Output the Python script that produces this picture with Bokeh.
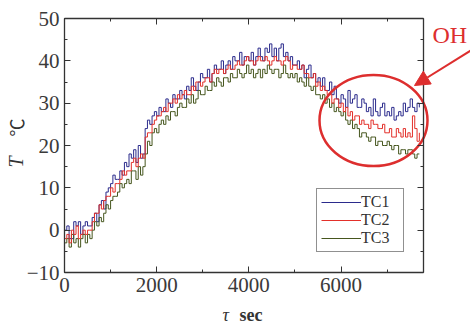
import numpy as np
from bokeh.plotting import figure
from bokeh.models import (LinearAxis, SingleIntervalTicker, Range1d, Legend, LegendItem,
                          Label, Arrow, NormalHead, ColumnDataSource)
from bokeh.embed import file_html
from bokeh.resources import INLINE

# ---------------- data ----------------
time_step = 50  # seconds between samples
tc1 = [
    0, 1, -2, -2, 2, 1, 2, -1, 1, 2,
    1, 1, 3, 4, 2, 6, 7, 5, 9, 10,
    11, 13, 12, 12, 14, 13, 16, 15, 18, 17,
    19, 16, 20, 17, 18, 24, 26, 25, 27, 28,
    27, 29, 28, 28, 31, 30, 29, 32, 31, 31,
    33, 32, 31, 34, 33, 36, 34, 33, 35, 37,
    36, 36, 38, 35, 37, 39, 38, 38, 40, 37,
    39, 40, 38, 41, 40, 40, 42, 39, 41, 41,
    40, 42, 39, 41, 43, 41, 40, 43, 42, 44,
    41, 43, 40, 43, 44, 41, 42, 40, 41, 39,
    39, 40, 38, 39, 36, 38, 39, 36, 37, 35,
    36, 34, 36, 33, 33, 35, 32, 34, 31, 30,
    32, 31, 29, 33, 30, 31, 32, 29, 29, 31,
    30, 28, 29, 27, 31, 28, 27, 29, 30, 27,
    28, 27, 29, 26, 27, 28, 27, 30, 28, 29,
    31, 29, 28, 30, 29,
]
tc2 = [
    -2, -1, -3, 0, -1, 1, -2, -1, 0, -1,
    0, 0, 2, 4, 4, 6, 5, 7, 8, 8,
    10, 9, 11, 11, 12, 14, 13, 14, 14, 16,
    17, 15, 17, 18, 17, 22, 23, 23, 25, 26,
    27, 27, 28, 29, 28, 30, 30, 31, 30, 32,
    31, 32, 33, 32, 32, 34, 33, 35, 35, 34,
    35, 36, 36, 35, 37, 38, 37, 38, 38, 37,
    38, 39, 38, 38, 39, 40, 39, 39, 40, 41,
    40, 40, 39, 40, 41, 40, 40, 41, 40, 39,
    40, 41, 40, 40, 39, 40, 41, 40, 38, 39,
    39, 38, 38, 39, 37, 37, 36, 36, 37, 34,
    35, 33, 34, 33, 32, 32, 30, 31, 31, 29,
    30, 28, 29, 27, 28, 26, 27, 27, 25, 26,
    25, 25, 24, 26, 25, 25, 24, 24, 25, 23,
    23, 24, 22, 22, 24, 23, 22, 24, 22, 23,
    22, 27, 24, 21, 23,
]
tc3 = [
    -3, -2, -4, -1, -3, -2, -4, -2, -1, -3,
    -1, -2, 0, 2, 1, 3, 2, 4, 6, 5,
    7, 8, 8, 9, 11, 10, 11, 12, 11, 14,
    14, 12, 15, 13, 15, 18, 21, 20, 23, 24,
    23, 25, 26, 25, 27, 26, 28, 28, 27, 29,
    30, 29, 29, 31, 30, 32, 30, 31, 33, 32,
    32, 34, 33, 33, 35, 34, 36, 35, 34, 36,
    36, 35, 37, 36, 36, 38, 37, 36, 37, 39,
    37, 38, 36, 37, 38, 36, 38, 37, 39, 38,
    37, 38, 38, 36, 37, 39, 37, 36, 37, 36,
    37, 35, 36, 35, 34, 36, 34, 33, 34, 32,
    32, 31, 32, 30, 31, 29, 30, 28, 29, 28,
    27, 28, 26, 25, 26, 24, 25, 24, 22, 23,
    23, 22, 21, 22, 22, 20, 21, 21, 20, 20,
    21, 20, 19, 20, 20, 18, 19, 19, 18, 19,
    19, 18, 17, 18, 18,
]
series_names = ["TC1", "TC2", "TC3"]
series_colors = ["#2b2b8c", "#e3302a", "#46561e"]
x_min, x_max = 0, 7790
y_min, y_max = -10, 50
x_tick_interval = 2000
y_tick_interval = 10

t = [i * time_step for i in range(len(tc2))]

# ---------------- layout (pixels) ----------------
W, H = 470, 330
frame_left, frame_right = 64, 423      # where the axes box sits on the canvas
frame_top, frame_bottom = 18, 272
sx = (frame_right - frame_left) / (x_max - x_min)   # px per data unit
sy = (frame_bottom - frame_top) / (y_max - y_min)

def dx(px):   # canvas x pixel -> data x
    return x_min + (px - frame_left) / sx

def dy(py):   # canvas y pixel -> data y
    return y_min + (frame_bottom - py) / sy

SERIF = "Liberation Serif"
DARK = "#333333"
RED = "#dd2e2e"
BASE_SHIFT = 0.37  # label baseline correction, in em

p = figure(width=W, height=H, output_backend="svg", toolbar_location=None,
           x_range=Range1d(dx(0), dx(W)), y_range=Range1d(dy(H), dy(0)),
           min_border=0, min_border_left=0, min_border_right=0,
           min_border_top=0, min_border_bottom=0)
p.background_fill_color = "white"
p.border_fill_color = "white"
p.outline_line_color = None
p.grid.visible = False

xt = SingleIntervalTicker(interval=x_tick_interval, num_minor_ticks=2)
yt = SingleIntervalTicker(interval=y_tick_interval, num_minor_ticks=2)

def style_axis(ax, labels=True):
    ax.axis_line_color = DARK
    ax.axis_line_width = 1.3
    ax.major_tick_in = 6
    ax.major_tick_out = 0
    ax.minor_tick_in = 3
    ax.minor_tick_out = 0
    ax.major_tick_line_color = DARK
    ax.minor_tick_line_color = DARK
    ax.major_label_text_font = SERIF
    ax.major_label_text_font_size = "21px"
    ax.major_label_text_color = "#3a3a3a" if labels else None
    ax.major_label_standoff = 5

bottom = p.xaxis[0]
left = p.yaxis[0]
bottom.ticker = xt
left.ticker = yt
bottom.fixed_location = y_min
left.fixed_location = x_min
bottom.bounds = (x_min, x_max)
left.bounds = (y_min, y_max)
style_axis(bottom)
style_axis(left)

top = LinearAxis(ticker=xt, fixed_location=y_max, bounds=(x_min, x_max))
right = LinearAxis(ticker=yt, fixed_location=x_max, bounds=(y_min, y_max))
style_axis(top, labels=False)
style_axis(right, labels=False)
p.add_layout(top, "above")
p.add_layout(right, "right")

src = ColumnDataSource(dict(t=t, tc1=tc1, tc2=tc2, tc3=tc3))
r1 = p.step("t", "tc1", source=src, mode="after", line_color=series_colors[0], line_width=1)
r3 = p.step("t", "tc3", source=src, mode="after", line_color=series_colors[2], line_width=1)
r2 = p.step("t", "tc2", source=src, mode="after", line_color=series_colors[1], line_width=1)

legend = Legend(items=[LegendItem(label=series_names[0], renderers=[r1]),
                       LegendItem(label=series_names[1], renderers=[r2]),
                       LegendItem(label=series_names[2], renderers=[r3])],
                location=(316, H - 252), orientation="vertical",
                border_line_color="#222222", border_line_width=1,
                background_fill_color="white", background_fill_alpha=1,
                padding=4, spacing=0, margin=0,
                label_height=16, glyph_height=16, glyph_width=40, label_width=38,
                label_standoff=0,
                label_text_font=SERIF, label_text_font_size="16px",
                label_text_color="#333333")
p.add_layout(legend, "center")

# OHP marker: ellipse, arrow and label (pixel geometry converted to data units)
ell_cx, ell_cy, ell_wpx, ell_hpx = 373, 120, 108, 91
p.ellipse(x=[dx(ell_cx)], y=[dy(ell_cy)], width=[ell_wpx / sx], height=[ell_hpx / sy],
          fill_color=None, line_color=RED, line_width=2.5)
p.add_layout(Arrow(x_start=dx(472), y_start=dy(49), x_end=dx(414), y_end=dy(85),
                   line_color=RED, line_width=2,
                   end=NormalHead(size=15, fill_color=RED, line_color=RED)))
oh_size = 24
p.add_layout(Label(x=dx(432), y=dy(43 - BASE_SHIFT * oh_size), text="OH", text_font=SERIF,
                   text_font_size=f"{oh_size}px",
                   text_color=RED, text_baseline="alphabetic", text_align="left"))

# axis titles
xt_size = 18
p.add_layout(Label(x=dx(222), y=dy(321 - BASE_SHIFT * xt_size), text="τ", text_font=SERIF,
                   text_font_style="italic", text_font_size=f"{xt_size}px", text_color=DARK,
                   text_baseline="alphabetic"))
p.add_layout(Label(x=dx(239), y=dy(321 - BASE_SHIFT * xt_size), text="sec", text_font=SERIF,
                   text_font_style="bold", text_font_size=f"{xt_size}px", text_color=DARK,
                   text_baseline="alphabetic"))
yt_size = 20
p.add_layout(Label(x=dx(23 - BASE_SHIFT * yt_size), y=dy(167), text="T", angle=np.pi / 2,
                   text_font=SERIF, text_font_style="italic", text_font_size=f"{yt_size}px",
                   text_color=DARK, text_baseline="alphabetic", text_align="left"))
p.add_layout(Label(x=dx(23 - BASE_SHIFT * yt_size), y=dy(136), text="℃", angle=np.pi / 2,
                   text_font="Noto Sans CJK JP", text_font_size="18px", text_color=DARK,
                   text_baseline="alphabetic", text_align="left"))

open("out.html", "w").write(file_html(p, INLINE))
